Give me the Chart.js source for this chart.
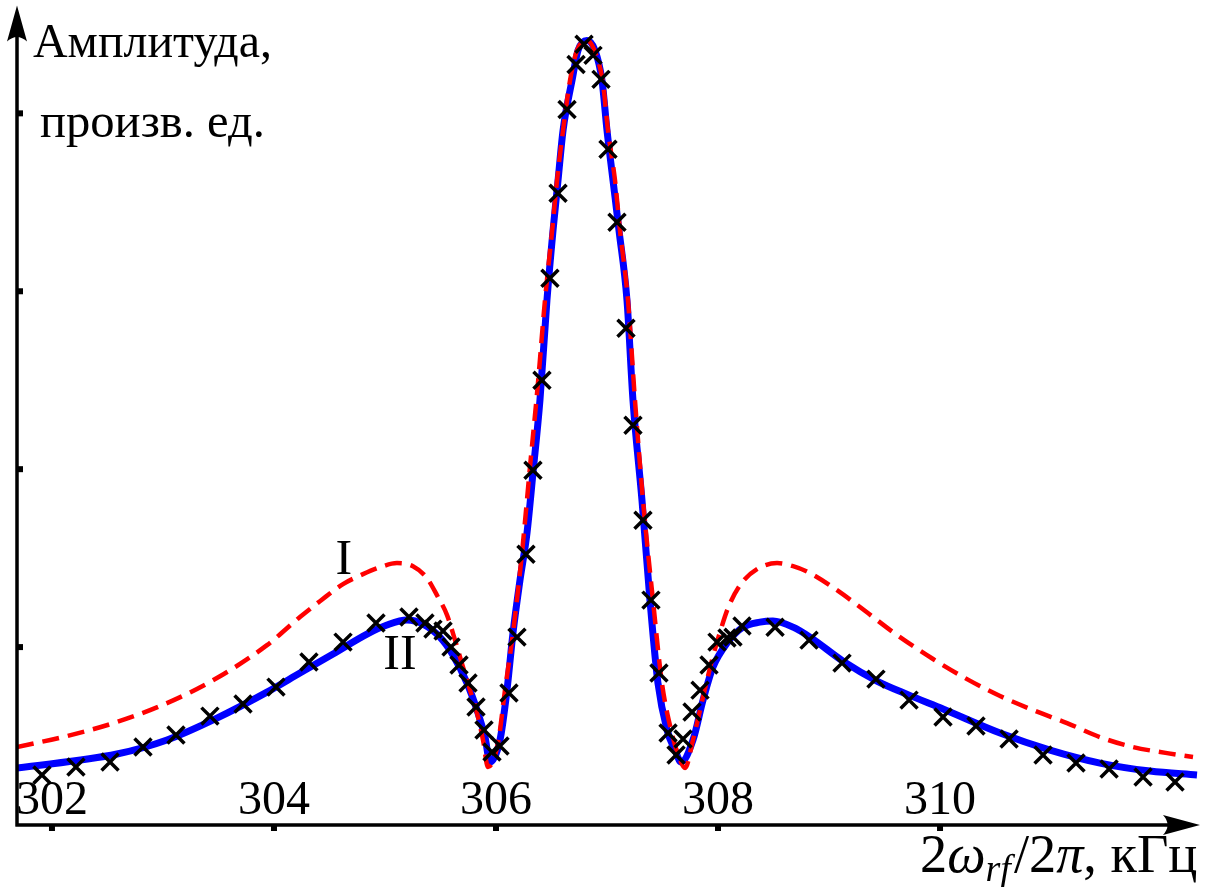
<!DOCTYPE html>
<html>
<head>
<meta charset="utf-8">
<script src="https://cdn.jsdelivr.net/npm/chart.js@4/dist/chart.umd.min.js"></script>
<style>
  html, body { margin: 0; padding: 0; background: #fff; }
  canvas { display: block; }
</style>
</head>
<body>
<canvas id="chart" width="1216" height="887"></canvas>
<script>
// Curve I (red dashed), kHz / arb. units
const curveIx = [301.685, 302.135, 302.586, 303.036, 303.486, 303.937, 304.234, 304.414, 304.622, 304.802,
  304.955, 305.108, 305.252, 305.378, 305.468, 305.559, 305.631, 305.703, 305.766, 305.829, 305.883, 305.928,
  306.018, 306.081, 306.153, 306.234, 306.306, 306.378, 306.441, 306.505, 306.550, 306.604, 306.667,
  306.730, 306.820, 306.910, 306.964, 307.009, 307.072, 307.117, 307.189, 307.252, 307.324, 307.414,
  307.495, 307.577, 307.658, 307.703, 307.775, 307.865, 307.946, 308.018, 308.090, 308.198, 308.351,
  308.532, 308.676, 308.829, 309.072, 309.279, 309.577, 309.937, 310.243, 310.541, 310.838, 311.144,
  311.441, 311.739, 312.045, 312.279];
const curveIy = [0.438, 0.500, 0.579, 0.685, 0.826, 1.011, 1.169, 1.258, 1.354, 1.410,
  1.449, 1.472, 1.455, 1.388, 1.292, 1.180, 1.039, 0.888, 0.758, 0.629, 0.478, 0.326,
  0.461, 0.758, 1.079, 1.528, 2.011, 2.483, 2.949, 3.337, 3.624, 3.904, 4.185,
  4.354, 4.410, 4.315, 4.169, 3.904, 3.624, 3.343, 2.949, 2.388, 1.826, 1.264,
  0.798, 0.534, 0.365, 0.320, 0.478, 0.719, 0.927, 1.084, 1.219, 1.348, 1.438,
  1.472, 1.455, 1.416, 1.320, 1.225, 1.084, 0.933, 0.820, 0.725, 0.646, 0.573,
  0.494, 0.438, 0.404, 0.382];

// Curve II (blue solid)
const curveIIx = [301.685, 302.586, 303.036, 303.486, 303.937, 304.234, 304.532, 304.838, 305.018, 305.198,
  305.342, 305.495, 305.613, 305.739, 305.829, 305.901, 305.946, 306.036, 306.099, 306.153, 306.216,
  306.279, 306.333, 306.396, 306.459, 306.514, 306.559, 306.604, 306.685, 306.739, 306.820, 306.892,
  306.955, 307.000, 307.054, 307.108, 307.180, 307.234, 307.315, 307.387, 307.459, 307.541, 307.613,
  307.667, 307.775, 307.865, 307.955, 308.081, 308.225, 308.378, 308.495, 308.676, 308.829, 309.126,
  309.432, 309.721, 310.027, 310.541, 310.991, 311.441, 311.892, 312.315];
const curveIIy = [0.320, 0.399, 0.478, 0.601, 0.747, 0.854, 0.961, 1.073, 1.124, 1.152,
  1.129, 1.056, 0.955, 0.798, 0.646, 0.494, 0.354, 0.478, 0.758, 1.079, 1.376,
  1.640, 1.978, 2.388, 2.949, 3.343, 3.624, 3.904, 4.185, 4.354, 4.410, 4.354,
  4.185, 3.904, 3.624, 3.343, 2.949, 2.388, 1.826, 1.264, 0.798, 0.534, 0.421,
  0.354, 0.478, 0.702, 0.888, 1.022, 1.112, 1.140, 1.146, 1.112, 1.056, 0.921,
  0.809, 0.730, 0.652, 0.517, 0.421, 0.348, 0.303, 0.281];

// Measured points (crosses)
const measX = [301.910, 302.216, 302.523, 302.820, 303.117, 303.423, 303.721, 304.018, 304.315, 304.622,
  304.919, 305.216, 305.360, 305.432, 305.523, 305.595, 305.667, 305.748, 305.820, 305.892, 305.964,
  306.036, 306.117, 306.189, 306.270, 306.333, 306.414, 306.486, 306.559, 306.640, 306.721, 306.793,
  306.874, 306.946, 307.009, 307.090, 307.171, 307.234, 307.324, 307.396, 307.468, 307.550, 307.622,
  307.685, 307.766, 307.838, 307.919, 307.991, 308.081, 308.135, 308.216, 308.514, 308.820, 309.117,
  309.423, 309.721, 310.027, 310.324, 310.622, 310.928, 311.225, 311.523, 311.829, 312.117];
const measY = [0.281, 0.326, 0.354, 0.438, 0.506, 0.612, 0.680, 0.775, 0.916, 1.028,
  1.135, 1.169, 1.135, 1.101, 1.090, 1.000, 0.899, 0.798, 0.663, 0.534, 0.410,
  0.444, 0.742, 1.056, 1.522, 1.994, 2.500, 3.073, 3.551, 4.022, 4.275, 4.388,
  4.326, 4.191, 3.798, 3.388, 2.792, 2.247, 1.713, 1.264, 0.854, 0.517, 0.393,
  0.483, 0.635, 0.758, 0.899, 1.028, 1.051, 1.056, 1.118, 1.112, 1.039, 0.910,
  0.820, 0.702, 0.607, 0.556, 0.483, 0.393, 0.348, 0.315, 0.270, 0.242];

const xTicks = [302, 304, 306, 308, 310];
const yTicks = [1, 2, 3, 4];
const yTitle = ['Амплитуда,', 'произв. ед.'];
const curveNames = ['I', 'II'];
const curveNamePos = [[304.63, 1.41], [305.135, 0.876]];

const X_MIN = 301.685, X_MAX = 312.342, Y_MIN = 0, Y_MAX = 4.55;
const SERIF = '"Liberation Serif", "DejaVu Serif", serif';

function toPoints(xs, ys) {
    return xs.map((x, i) => ({ x: x, y: ys[i] }));
}

// font size that makes text span the given width
function fitFont(ctx, text, width, style) {
    ctx.font = `${style || ''} 100px ${SERIF}`;
    return 100 * width / ctx.measureText(text).width;
}

const axesPlugin = {
    id: 'arrowAxes',
    beforeDatasetsDraw(chart) {
        const { ctx, chartArea: a, scales } = chart;
        ctx.save();
        ctx.fillStyle = '#000';
        ctx.textAlign = 'center';
        ctx.textBaseline = 'alphabetic';
        ctx.font = `48px ${SERIF}`;
        xTicks.forEach(t => {
            ctx.fillText(String(t), scales.x.getPixelForValue(t), a.bottom - 11);
        });
        ctx.restore();
    },
    afterDraw(chart) {
        const { ctx, chartArea: a, scales } = chart;
        const ax = a.left, ay = a.bottom;
        ctx.save();
        ctx.strokeStyle = '#000';
        ctx.fillStyle = '#000';
        ctx.lineWidth = 3.5;

        // axis lines
        ctx.beginPath();
        ctx.moveTo(ax, ay + 1.5);
        ctx.lineTo(ax, a.top + 20);
        ctx.moveTo(ax - 1.5, ay);
        ctx.lineTo(a.right - 20, ay);
        ctx.stroke();

        // arrow heads
        const tipY = a.top - 10, tipX = a.right;
        ctx.beginPath();
        ctx.moveTo(ax, tipY);
        ctx.lineTo(ax + 10, tipY + 36);
        ctx.quadraticCurveTo(ax, tipY + 27, ax - 10, tipY + 36);
        ctx.closePath();
        ctx.fill();
        ctx.beginPath();
        ctx.moveTo(tipX, ay);
        ctx.lineTo(tipX - 37, ay - 10);
        ctx.quadraticCurveTo(tipX - 28, ay, tipX - 37, ay + 10);
        ctx.closePath();
        ctx.fill();

        // tick marks
        xTicks.forEach(t => {
            const px = scales.x.getPixelForValue(t);
            ctx.fillRect(px - 3, ay, 6, 6);
        });
        yTicks.forEach(t => {
            const py = scales.y.getPixelForValue(t);
            ctx.fillRect(ax, py - 3, 6, 6);
        });

        // y title
        ctx.textAlign = 'left';
        ctx.textBaseline = 'alphabetic';
        let fs = fitFont(ctx, yTitle[0], 239);
        ctx.font = `${fs}px ${SERIF}`;
        ctx.fillText(yTitle[0], 33, 57);
        fs = fitFont(ctx, yTitle[1], 225);
        ctx.font = `${fs}px ${SERIF}`;
        ctx.fillText(yTitle[1], 40, 137);

        // curve names
        ctx.textAlign = 'center';
        ctx.font = `50px ${SERIF}`;
        curveNames.forEach((n, i) => {
            const p = curveNamePos[i];
            ctx.fillText(n, scales.x.getPixelForValue(p[0]), scales.y.getPixelForValue(p[1]));
        });

        // x title: 2ω_rf/2π, кГц
        const parts = [
            { t: '2', it: false, sub: false },
            { t: 'ω', it: true, sub: false },
            { t: 'rf', it: true, sub: true },
            { t: '/2', it: false, sub: false },
            { t: 'π', it: true, sub: false },
            { t: ', кГц', it: false, sub: false }
        ];
        const base = 46;
        const setFont = (p, size) => {
            const s = p.sub ? size * 0.7 : size;
            ctx.font = `${p.it ? 'italic ' : ''}${s}px ${SERIF}`;
        };
        let total = 0;
        parts.forEach(p => { setFont(p, base); total += ctx.measureText(p.t).width + (p.sub ? 3 : 0); });
        const size = base * 278 / total;
        let x = 920;
        const baseline = 872;
        ctx.textAlign = 'left';
        parts.forEach(p => {
            setFont(p, size);
            ctx.fillText(p.t, x, p.sub ? baseline + 9 : baseline);
            x += ctx.measureText(p.t).width + (p.sub ? 3 : 0);
        });
        ctx.restore();
    }
};

new Chart(document.getElementById('chart'), {
    type: 'scatter',
    data: {
        datasets: [
            {
                label: 'Эксперимент',
                data: toPoints(measX, measY),
                showLine: false,
                pointStyle: 'crossRot',
                pointRadius: 12,
                pointBorderWidth: 3.5,
                pointBorderColor: '#000',
                pointBackgroundColor: '#000',
                order: 0
            },
            {
                label: 'I',
                data: toPoints(curveIx, curveIy),
                showLine: true,
                borderColor: '#ff0000',
                borderWidth: 4.5,
                borderDash: [17, 9],
                pointRadius: 0,
                cubicInterpolationMode: 'monotone',
                order: 1
            },
            {
                label: 'II',
                data: toPoints(curveIIx, curveIIy),
                showLine: true,
                borderColor: '#0000ff',
                borderWidth: 7,
                pointRadius: 0,
                cubicInterpolationMode: 'monotone',
                order: 2
            }
        ]
    },
    options: {
        responsive: false,
        animation: false,
        layout: { padding: { left: 17, right: 16, top: 15, bottom: 62 } },
        plugins: {
            legend: { display: false },
            tooltip: { enabled: false }
        },
        scales: {
            x: { type: 'linear', min: X_MIN, max: X_MAX, display: false },
            y: { type: 'linear', min: Y_MIN, max: Y_MAX, display: false }
        }
    },
    plugins: [axesPlugin]
});
</script>
</body>
</html>
